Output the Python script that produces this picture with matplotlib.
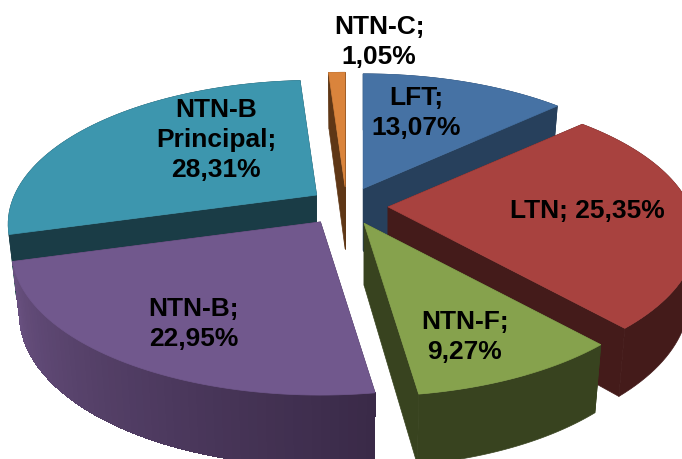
import numpy as np
import matplotlib
matplotlib.use('Agg')
import matplotlib.pyplot as plt
from matplotlib.colors import to_rgb
from matplotlib.patches import Polygon

# ── Data ───────────────────────────────────────────────────────────
names = ['LFT', 'LTN', 'NTN-F', 'NTN-B', 'NTN-B\nPrincipal', 'NTN-C']
shares = [13.07, 25.35, 9.27, 22.95, 28.31, 1.05]

# ── Style ──────────────────────────────────────────────────────────
top_colors = ['#4672a4', '#a8423f', '#86a24d', '#71588d', '#3d96ae', '#da843c']
rim_from = ['#27405c', '#441b1a', '#38431f', '#3a2a48', '#1a3c46', '#5f3716']
rim_to = ['#27405c', '#441b1a', '#38431f', '#68507f', '#1a3c46', '#5f3716']
face_colors = ['#27405c', '#441b1a', '#38431f', '#3a2a48', '#1a3c46', '#5f3716']
explode_x = [1, 1, 1, 1.15, 0.88, 1]
draw_order = [5, 0, 4, 1, 2, 3]
label_xy = [(416, 113), (587, 211), (465, 337), (194, 324), (216, 140), (379, 42)]

# projection of the disc, in pixels
CX, CY = 346.5, 207
RX, RY = 302, 138
PERSP = 0.203
EXPLODE_X, EXPLODE_Y = 41.6, 19
DEPTH = 62
BOTTOM_X, BOTTOM_Y = 0.975, 1.05


def rim_top(theta):
    s = 1 / (1 + PERSP * np.cos(theta))
    return RX * np.sin(theta) * s, -RY * np.cos(theta) * s


def rim_bottom(theta):
    x, y = rim_top(theta)
    return x * BOTTOM_X, y * BOTTOM_Y + DEPTH


def quad(ax, pts, color, z, smooth=True):
    ax.add_patch(Polygon(pts, closed=True, facecolor=color, edgecolor=color,
                         linewidth=0.5, antialiased=smooth, zorder=z))


fig = plt.figure(figsize=(6.82, 4.6), dpi=100)
ax = fig.add_axes([0, 0, 1, 1])
ax.set_xlim(0, 682)
ax.set_ylim(460, 0)
ax.axis('off')

edges = np.radians(np.cumsum([0] + shares) * 3.6)

for z, i in enumerate(draw_order):
    a0, a1 = edges[i], edges[i + 1]
    mid = (a0 + a1) / 2
    ox = CX + EXPLODE_X * explode_x[i] * np.sin(mid)
    oy = CY - EXPLODE_Y * np.cos(mid)
    th = np.linspace(a0, a1, 60)
    tx, ty = rim_top(th)
    bx, by = rim_bottom(th)
    tx, ty, bx, by = tx + ox, ty + oy, bx + ox, by + oy

    # cut faces
    for k in (0, -1):
        quad(ax, [(ox, oy), (tx[k], ty[k]), (bx[k], by[k]), (ox, oy + DEPTH)],
             face_colors[i], z)

    # outer wall, shaded along the arc when the two ends differ
    wall = list(zip(tx, ty)) + list(zip(bx[::-1], by[::-1]))
    c0, c1 = np.array(to_rgb(rim_from[i])), np.array(to_rgb(rim_to[i]))
    quad(ax, wall, tuple((c0 + c1) / 2), z)
    if rim_from[i] != rim_to[i]:
        for k in range(len(th) - 1):
            col = c0 + (c1 - c0) * k / (len(th) - 2)
            quad(ax, [(tx[k], ty[k]), (tx[k + 1], ty[k + 1]),
                      (bx[k + 1], by[k + 1]), (bx[k], by[k])], tuple(col), z, smooth=False)

    # top face
    quad(ax, [(ox, oy)] + list(zip(tx, ty)), top_colors[i], z)

for name, share, (x, y) in zip(names, shares, label_xy):
    value = f'{share:.2f}'.replace('.', ',') + '%'
    sep = ' ' if name == 'LTN' else '\n'
    ax.text(x, y, f'{name};{sep}{value}', ha='center', va='center', color='black',
            fontsize=19, fontweight='bold', family='Liberation Sans',
            linespacing=1.29, zorder=20)

fig.savefig('out.png', dpi=100)
